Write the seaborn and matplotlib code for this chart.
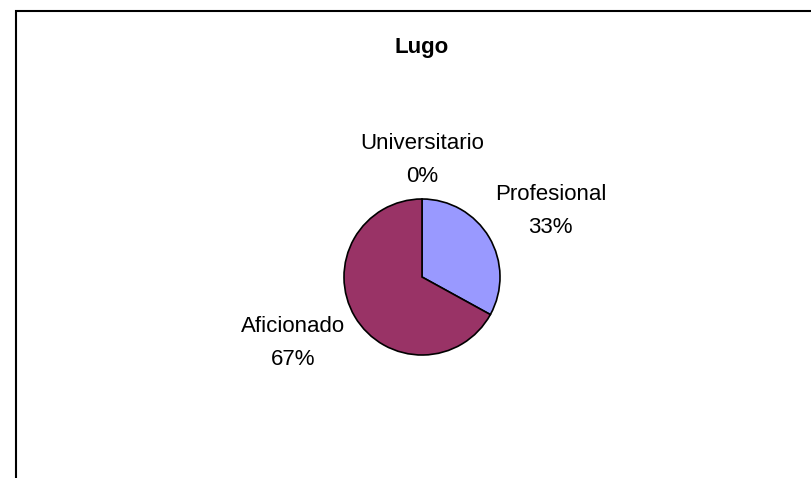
import seaborn as sns
import matplotlib.pyplot as plt
from matplotlib.patches import Rectangle

# Data
categories = ['Universitario', 'Profesional', 'Aficionado']
percentages = [0, 33, 67]
colors = ['#FFFFCC', '#9999FF', '#993366']

sns.set_theme(style='white')
plt.rcParams['font.family'] = ['Liberation Sans', 'DejaVu Sans']

W, H = 812, 478
fig = plt.figure(figsize=(W / 100, H / 100), dpi=100)
fig.patch.set_facecolor('white')

# outer chart frame (only left and top edges visible in the crop)
fig.patches.append(Rectangle((16 / W, -0.2), 2.0, 1.2 - 10.5 / H,
                             transform=fig.transFigure, fill=False,
                             edgecolor='black', linewidth=1.5))

# pie axes: center (422, 277) px, radius 78 px
r = 78
cx, cy = 422, H - 277
ax = fig.add_axes([(cx - r) / W, (cy - r) / H, 2 * r / W, 2 * r / H])
wedges, _ = ax.pie(percentages, colors=colors, startangle=90, counterclock=False,
                   wedgeprops=dict(edgecolor='black', linewidth=1.2))
ax.set_xlim(-1, 1)
ax.set_ylim(-1, 1)
ax.set_aspect('equal')
ax.axis('off')

# label placement (in pie radii), like Excel's outside-end labels
label_pos = [(0.0, 1.5), (1.65, 0.84), (-1.65, -0.84)]
for (lx, ly), name, pct in zip(label_pos, categories, percentages):
    ax.text(lx, ly, f'{name}\n{pct}%', ha='center', va='center',
            fontsize=16, linespacing=1.75, color='black', clip_on=False)

fig.text(422 / W, 1 - 47 / H, 'Lugo', ha='center', va='center',
         fontsize=16, fontweight='bold', color='black')

fig.savefig('out.png', dpi=100, facecolor='white')
